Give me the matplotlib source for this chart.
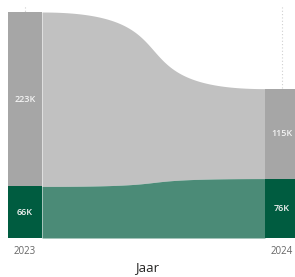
import numpy as np
import matplotlib.pyplot as plt

plt.rcParams['font.family'] = ['Open Sans', 'DejaVu Sans']

years = ['2023', '2024']
groen = [66, 76]      # onderste segment (duizenden)
grijs = [223, 115]    # bovenste segment (duizenden)
labels_groen = ['66K', '76K']
labels_grijs = ['223K', '115K']

BAR_GRIJS = '#a6a6a6'
FLOW_GRIJS = '#c1c1c1'
BAR_GROEN = '#005c40'
FLOW_GROEN = '#4b8b77'


def bezier_ribbon(x0, x1, y0, y1, k=0.7, n=200):
    # kubische bezier tussen de randen van de twee staven
    u = np.linspace(0, 1, n)
    d = x1 - x0
    x = x0 + 3 * u * (1 - u) ** 2 * (k * d) + 3 * u ** 2 * (1 - u) * (d - k * d) + u ** 3 * d
    s = 3 * u ** 2 - 2 * u ** 3
    y = y0 + (y1 - y0) * s
    return x, y


fig = plt.figure(figsize=(2.95, 2.77), dpi=100)
ax = fig.add_axes([0, 39 / 277, 1, 233 / 277])

px = 257.0
w = 34 / px
ax.set_xlim(-25 / px, 1 + 13 / px)
ax.set_ylim(0, 233 / (226 / 289))

pos = np.arange(len(years))
totaal = np.array(groen) + np.array(grijs)

# gestippelde rasterlijnen
for p in pos:
    ax.axvline(p, color='#d0d0d0', linestyle=(0, (1, 2)), linewidth=0.8, zorder=0)

# linten
x_a = pos[0] + w / 2
x_b = pos[1] - w / 2
xt, yt = bezier_ribbon(x_a, x_b, totaal[0], totaal[1])
xg, yg = bezier_ribbon(x_a, x_b, groen[0], groen[1])
ax.fill_between(xt, yg, yt, color=FLOW_GRIJS, linewidth=0, zorder=1)
ax.fill_between(xg, 0, yg, color=FLOW_GROEN, linewidth=0, zorder=1)

# staven
ax.bar(pos, groen, width=w, color=BAR_GROEN, linewidth=0, zorder=2)
ax.bar(pos, grijs, width=w, bottom=groen, color=BAR_GRIJS, linewidth=0, zorder=2)

for i in range(len(years)):
    ax.text(pos[i], groen[i] / 2, labels_groen[i], color='#f4f4f4', fontsize=6.5,
            fontweight='semibold', ha='center', va='center', zorder=3)
    ax.text(pos[i], groen[i] + grijs[i] / 2, labels_grijs[i], color='#f4f4f4', fontsize=6.5,
            fontweight='semibold', ha='center', va='center', zorder=3)

ax.axhline(0, color='#e3e3e3', linewidth=0.8, zorder=0)

ax.set_xticks(pos, years)
ax.tick_params(axis='x', length=0, pad=6, labelsize=7, labelcolor='#666666')
ax.set_yticks([])
for s in ax.spines.values():
    s.set_visible(False)
ax.set_xlabel('Jaar', fontsize=9.5, color='#252423', labelpad=3)

fig.savefig('out.png', dpi=100)
